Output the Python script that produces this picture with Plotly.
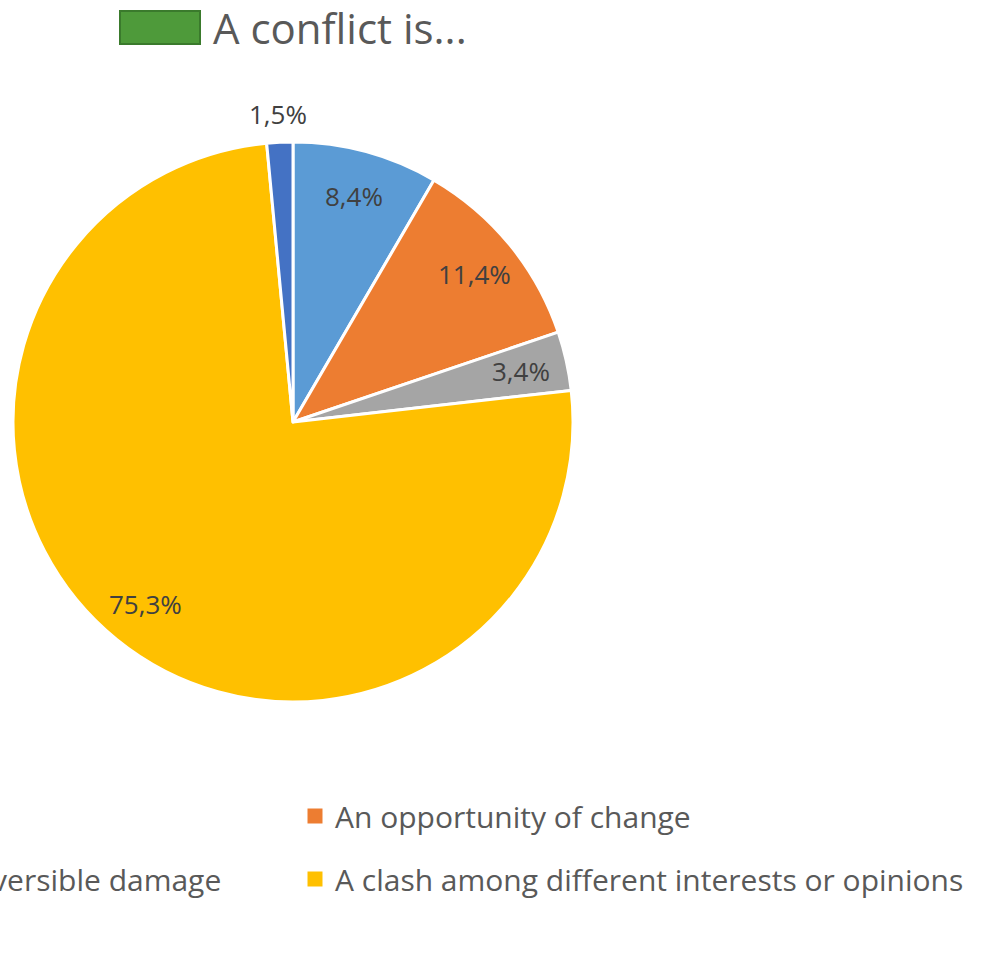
import math
import plotly.graph_objects as go

# ---- data ----
categories = [
    "A negative event",
    "An opportunity of change",
    "An irreversible damage",
    "A clash among different interests or opinions",
    "Other",
]
values = [8.4, 11.4, 3.4, 75.3, 1.5]
colors = ["#5B9BD5", "#ED7D31", "#A5A5A5", "#FFC000", "#4472C4"]
label_text = [f"{v:.1f}%".replace(".", ",") for v in values]
label_outside = [False, False, False, False, True]
title_text = "A conflict is..."

W, H = 981, 955
cx, cy, R = 293, 422, 280
FONT = "Open Sans"

fig = go.Figure()
fig.add_trace(go.Pie(
    labels=categories,
    values=values,
    textinfo="none",
    sort=False,
    direction="clockwise",
    rotation=0,
    marker=dict(colors=colors, line=dict(color="white", width=3)),
    domain=dict(x=[(cx - R) / W, (cx + R) / W], y=[1 - (cy + R) / H, 1 - (cy - R) / H]),
    showlegend=False,
    hoverinfo="label+percent",
))

# data labels placed on each slice's mid-angle (computed from the values)
total = sum(values)
cum = 0.0
for v, txt, outside in zip(values, label_text, label_outside):
    mid = (cum + v / 2) / total * 2 * math.pi  # clockwise from 12 o'clock
    cum += v
    rf = 1.10 if outside else 0.835
    px = cx + rf * R * math.sin(mid)
    py = cy - rf * R * math.cos(mid)
    fig.add_annotation(text=txt, xref="paper", yref="paper",
                       x=px / W, y=1 - py / H, xanchor="center", yanchor="middle",
                       showarrow=False, font=dict(family=FONT, size=26, color="#404040"))

# title
fig.add_shape(type="rect", xref="paper", yref="paper",
              x0=120 / W, x1=200 / W, y0=1 - 44 / H, y1=1 - 11 / H,
              fillcolor="#4E9A3A", line=dict(color="#3A7A2C", width=2))
fig.add_annotation(text=title_text, xref="paper", yref="paper",
                   x=211 / W, y=1 - 27 / H, xanchor="left", yanchor="middle",
                   showarrow=False, font=dict(family=FONT, size=42, color="#595959"))

# legend (two columns, the left one cut off by the picture edge)
legend_markers = [(1, 315, 816), (3, 315, 879), (2, -120, 879)]
for idx, mx, my in legend_markers:
    fig.add_shape(type="rect", xref="paper", yref="paper",
                  x0=(mx - 7.5) / W, x1=(mx + 7.5) / W,
                  y0=1 - (my + 7.5) / H, y1=1 - (my - 7.5) / H,
                  fillcolor=colors[idx], line=dict(width=0))
fig.add_annotation(text=categories[1], xref="paper", yref="paper",
                   x=333 / W, y=1 - 816 / H, xanchor="left", yanchor="middle",
                   showarrow=False, font=dict(family=FONT, size=30, color="#595959"))
fig.add_annotation(text=categories[3], xref="paper", yref="paper",
                   x=333 / W, y=1 - 879 / H, xanchor="left", yanchor="middle",
                   showarrow=False, font=dict(family=FONT, size=30, color="#595959"))
fig.add_annotation(text=categories[2], xref="paper", yref="paper",
                   x=223 / W, y=1 - 879 / H, xanchor="right", yanchor="middle",
                   showarrow=False, font=dict(family=FONT, size=30, color="#595959"))

fig.update_layout(
    width=W, height=H,
    margin=dict(l=0, r=0, t=0, b=0, autoexpand=False),
    paper_bgcolor="white",
    plot_bgcolor="white",
)
fig.write_html("out.html")
